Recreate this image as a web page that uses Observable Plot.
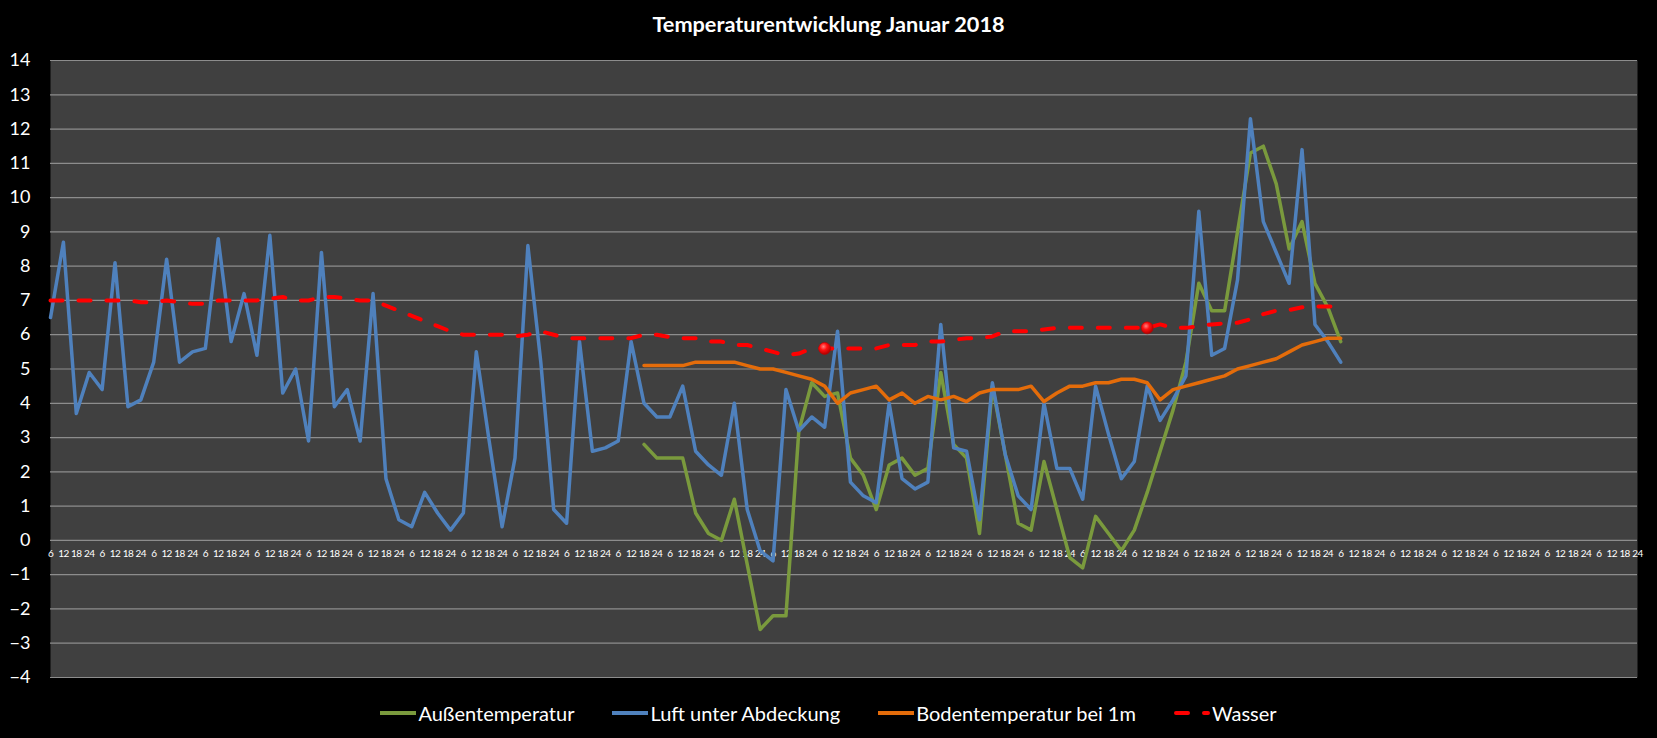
<!DOCTYPE html>
<html>
<head>
<meta charset="utf-8">
<script src="https://cdn.jsdelivr.net/npm/d3@7"></script>
<script src="https://cdn.jsdelivr.net/npm/@observablehq/plot@0.6"></script>
<style>
  html, body { margin: 0; padding: 0; background: #000; }
  #wrap { position: relative; width: 1657px; height: 738px; background: #000; overflow: hidden; font-family: Lato, "Open Sans", sans-serif; color: #fff; }
  #title { position: absolute; left: 0; top: 12px; width: 1657px; text-align: center; font-weight: bold; font-size: 21.7px; line-height: 24px; }
  #chart { position: absolute; left: 0; top: 40px; }
  #legend { position: absolute; left: 0; top: 699px; width: 1657px; display: flex; justify-content: center; align-items: center; gap: 38px; font-size: 20px; line-height: 28px; }
  .item { display: flex; align-items: center; gap: 2px; }
  .item svg { display: block; }
</style>
</head>
<body>
<div id="wrap">
  <div id="title">Temperaturentwicklung Januar 2018</div>
  <div id="chart"></div>
  <div id="legend"></div>
</div>
<script>
// ---- data ----
const days = d3.range(1, 32);
const hours = ["6", "12", "18", "24"];
const yTicks = d3.range(-4, 15);

const luft = [6.5,8.7,3.7,4.9,4.4,8.1,3.9,4.1,5.2,8.2,
  5.2,5.5,5.6,8.8,5.8,7.2,5.4,8.9,4.3,5.0,
  2.9,8.4,3.9,4.4,2.9,7.2,1.8,0.6,0.4,1.4,
  0.8,0.3,0.8,5.5,2.9,0.4,2.4,8.6,5.2,0.9,
  0.5,5.8,2.6,2.7,2.9,5.8,4.0,3.6,3.6,4.5,
  2.6,2.2,1.9,4.0,0.9,-0.3,-0.6,4.4,3.2,3.6,
  3.3,6.1,1.7,1.3,1.1,4.0,1.8,1.5,1.7,6.3,
  2.7,2.6,0.6,4.6,2.5,1.3,0.9,4.0,2.1,2.1,
  1.2,4.5,3.1,1.8,2.3,4.5,3.5,4.1,4.8,9.6,
  5.4,5.6,7.6,12.3,9.3,8.4,7.5,11.4,6.3,5.8,
  5.2];

const aussenStart = 46;
const aussen = [2.8,2.4,2.4,2.4,0.8,0.2,0.0,1.2,-0.7,-2.6,
  -2.2,-2.2,3.2,4.6,4.2,4.3,2.4,1.9,0.9,2.2,
  2.4,1.9,2.1,4.9,2.8,2.4,0.2,4.5,2.5,0.5,
  0.3,2.3,0.9,-0.5,-0.8,0.7,0.2,-0.3,0.3,1.4,
  2.6,3.8,5.2,7.5,6.7,6.7,9.0,11.3,11.5,10.4,
  8.5,9.3,7.5,6.8,5.8];

const bodenStart = 46;
const boden = [5.1,5.1,5.1,5.1,5.2,5.2,5.2,5.2,5.1,5.0,
  5.0,4.9,4.8,4.7,4.5,4.0,4.3,4.4,4.5,4.1,
  4.3,4.0,4.2,4.1,4.2,4.05,4.3,4.4,4.4,4.4,
  4.5,4.05,4.3,4.5,4.5,4.6,4.6,4.7,4.7,4.6,
  4.1,4.4,4.5,4.6,4.7,4.8,5.0,5.1,5.2,5.3,
  5.5,5.7,5.8,5.9,5.9];

const wasser = [7.0,7.0,7.0,7.0,7.0,7.0,7.0,6.95,6.95,7.0,
  6.95,6.9,6.9,7.0,7.0,7.0,7.0,7.05,7.1,7.0,
  7.0,7.1,7.1,7.05,7.0,7.0,6.85,6.7,6.55,6.4,
  6.25,6.1,6.0,6.0,6.0,6.0,5.95,6.0,6.1,6.0,
  5.9,5.9,5.9,5.9,5.9,5.9,6.0,6.0,5.93,5.9,
  5.9,5.8,5.8,5.7,5.7,5.6,5.5,5.4,5.45,5.6,
  5.6,5.6,5.6,5.6,5.6,5.7,5.7,5.7,5.8,5.8,
  5.85,5.9,5.9,5.95,6.1,6.1,6.1,6.15,6.2,6.2,
  6.2,6.2,6.2,6.2,6.2,6.2,6.3,6.2,6.2,6.25,
  6.3,6.33,6.35,6.45,6.6,6.7,6.72,6.8,6.82,6.82,
  6.82];
const wasserMarkerIdx = [60, 85];

const seriesNames = ["Außentemperatur", "Luft unter Abdeckung", "Bodentemperatur bei 1m", "Wasser"];
const seriesColors = ["#7A9A3D", "#4F81BD", "#E46C0A", "#FF0000"];

// ---- build ----
const keys = [];
days.forEach(d => hours.forEach(h => keys.push(d + "-" + h)));
const rows = (vals, start = 0) => vals.map((v, j) => ({ key: keys[start + j], v }));

const plot = Plot.plot({
  width: 1657,
  height: 650,
  marginLeft: 50,
  marginRight: 20,
  marginTop: 20,
  marginBottom: 13,
  style: { background: "#000", color: "#fff", fontFamily: "Lato, 'Open Sans', sans-serif", overflow: "visible" },
  x: { type: "point", domain: keys, padding: 0, axis: null },
  y: { domain: [-4, 14], axis: null },
  marks: [
    Plot.frame({ fill: "#404040", stroke: "none" }),
    Plot.gridY(yTicks, { stroke: "#8d8d8d", strokeOpacity: 1, strokeWidth: 1.2 }),
    Plot.axisY(yTicks, { tickSize: 0, tickPadding: 20, fontSize: 18, fill: "#fff", label: null }),
    Plot.text(keys, { x: d => d, y: () => 0, text: d => d.split("-")[1], dy: 13, fontSize: 10, fill: "#fff" }),
    Plot.line(rows(aussen, aussenStart), { x: "key", y: "v", stroke: seriesColors[0], strokeWidth: 3.5, strokeLinejoin: "round" }),
    Plot.line(rows(luft), { x: "key", y: "v", stroke: seriesColors[1], strokeWidth: 3.5, strokeLinejoin: "round" }),
    Plot.line(rows(boden, bodenStart), { x: "key", y: "v", stroke: seriesColors[2], strokeWidth: 3.5, strokeLinejoin: "round" }),
    Plot.line(rows(wasser), { x: "key", y: "v", stroke: seriesColors[3], strokeWidth: 4, strokeDasharray: "12,16", strokeLinecap: "round", strokeLinejoin: "round" }),
    Plot.dot(wasserMarkerIdx, { x: i => keys[i], y: i => wasser[i], r: 6, fill: "url(#redball)", stroke: "#c00000", strokeWidth: 0.6 })
  ]
});

// tighten the hour labels a little so neighbours stay apart
plot.querySelectorAll('g[aria-label="text"]').forEach(g => g.setAttribute("letter-spacing", "-0.6"));

// radial gradient for the marker balls
const ns = "http://www.w3.org/2000/svg";
const defs = document.createElementNS(ns, "defs");
defs.innerHTML = '<radialGradient id="redball" cx="40%" cy="35%" r="65%">' +
  '<stop offset="0%" stop-color="#ff8080"/><stop offset="45%" stop-color="#ff1010"/><stop offset="100%" stop-color="#b00000"/></radialGradient>';
plot.insertBefore(defs, plot.firstChild);
document.getElementById("chart").appendChild(plot);

// ---- legend ----
const legend = document.getElementById("legend");
seriesNames.forEach((name, k) => {
  const item = document.createElement("div");
  item.className = "item";
  const dash = k === 3 ? ' stroke-dasharray="12,16" stroke-linecap="round"' : '';
  const x1 = k === 3 ? 2 : 0, x2 = k === 3 ? 34 : 36;
  item.innerHTML = '<svg width="36" height="10"><line x1="' + x1 + '" y1="5" x2="' + x2 + '" y2="5" stroke="' + seriesColors[k] + '" stroke-width="4"' + dash + '/></svg><span>' + name + '</span>';
  legend.appendChild(item);
});
</script>
</body>
</html>
